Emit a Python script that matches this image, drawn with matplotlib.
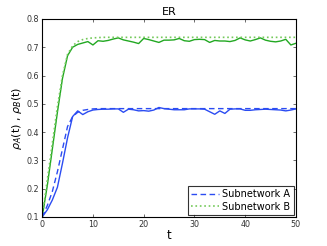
import matplotlib
matplotlib.use("Agg")
import matplotlib.pyplot as plt
import numpy as np

t = list(range(51))
sim_A = [0.10, 0.125, 0.16, 0.205, 0.29, 0.38, 0.455, 0.475, 0.462, 0.472, 0.478,
         0.480, 0.481, 0.481, 0.482, 0.482, 0.470, 0.481, 0.479, 0.475, 0.476,
         0.474, 0.478, 0.487, 0.483, 0.481, 0.479, 0.479, 0.479, 0.482, 0.482,
         0.482, 0.481, 0.472, 0.463, 0.475, 0.466, 0.481, 0.482, 0.482, 0.477,
         0.477, 0.479, 0.480, 0.481, 0.480, 0.479, 0.478, 0.475, 0.478, 0.482]
sim_B = [0.10, 0.21, 0.34, 0.47, 0.59, 0.67, 0.70, 0.71, 0.715, 0.72, 0.708,
         0.723, 0.721, 0.724, 0.729, 0.733, 0.726, 0.722, 0.718, 0.713, 0.731,
         0.727, 0.722, 0.717, 0.725, 0.725, 0.726, 0.731, 0.723, 0.721, 0.727,
         0.728, 0.727, 0.717, 0.724, 0.722, 0.722, 0.720, 0.724, 0.733, 0.726,
         0.722, 0.727, 0.733, 0.725, 0.721, 0.719, 0.722, 0.728, 0.708, 0.714]
theory_A = [0.10, 0.14, 0.19, 0.26, 0.34, 0.42, 0.455, 0.470, 0.477, 0.480, 0.482] + [0.483] * 40
theory_B = [0.10, 0.23, 0.36, 0.49, 0.60, 0.675, 0.705, 0.72, 0.727, 0.731, 0.733, 0.734] + [0.735] * 39

x_ticks = [0, 10, 20, 30, 40, 50]
y_ticks = [0.1, 0.2, 0.3, 0.4, 0.5, 0.6, 0.7, 0.8]

blue = '#2b4cf2'
green = '#22a822'
green_light = '#74c95a'

fig = plt.figure(figsize=(3.27, 2.46), dpi=100)
ax = fig.add_axes([0.129, 0.118, 0.776, 0.805])

ax.plot(t, sim_A, '-', color=blue, lw=1.0)
ax.plot(t, sim_B, '-', color=green, lw=1.0)
lA, = ax.plot(t, theory_A, '--', color=blue, lw=1.0, dashes=(4, 2.5))
lB, = ax.plot(t, theory_B, ':', color=green_light, lw=1.2)

ax.set_xlim(0, 50)
ax.set_ylim(0.1, 0.8)
ax.set_xticks(x_ticks)
ax.set_yticks(y_ticks)
ax.set_yticklabels([f"{v:.1f}" for v in y_ticks])
ax.tick_params(direction='in', top=True, right=True, labelsize=5.8, length=2.5, width=0.5, pad=2, colors='#333333', labelcolor='#333333')
for s in ax.spines.values():
    s.set_linewidth(0.8)
ax.set_title('ER', fontsize=8, pad=3)
ax.set_xlabel('t', fontsize=8.5, labelpad=0)
ax.set_ylabel(r'$\rho_A$(t) , $\rho_B$(t)', fontsize=8, labelpad=2)

leg = ax.legend([lA, lB], ['Subnetwork A', 'Subnetwork B'], loc='lower right',
                fontsize=7, frameon=True, fancybox=False, edgecolor='black',
                borderpad=0.3, handlelength=2.8, handletextpad=0.4, labelspacing=0.25,
                borderaxespad=0.25)
leg.get_frame().set_linewidth(0.8)

fig.savefig('out.png', dpi=100)
